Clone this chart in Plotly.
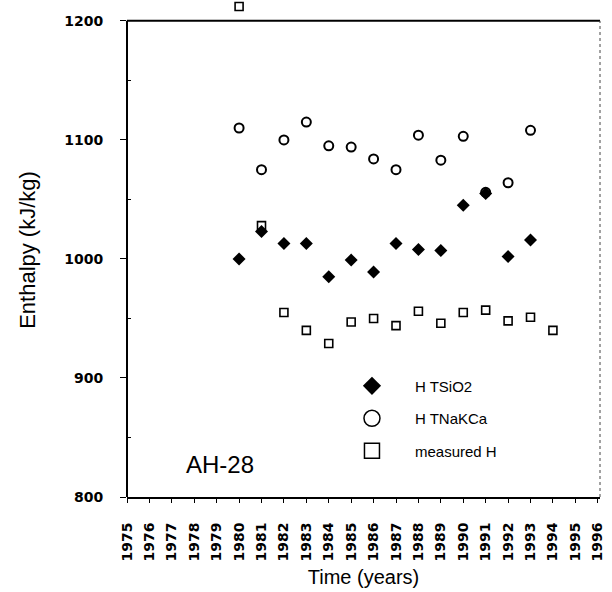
import plotly.graph_objects as go

years_tick = list(range(1975, 1997))
tick_text = [str(y) for y in years_tick]
y_ticks = [800, 900, 1000, 1100, 1200]
y_min, y_max = 800, 1200

years_tsio2 = [1980, 1981, 1982, 1983, 1984, 1985, 1986, 1987, 1988, 1989, 1990, 1991, 1992, 1993]
h_tsio2 = [1000, 1023, 1013, 1013, 985, 999, 989, 1013, 1008, 1007, 1045, 1055, 1002, 1016]

years_tnakca = [1980, 1981, 1982, 1983, 1984, 1985, 1986, 1987, 1988, 1989, 1990, 1991, 1992, 1993]
h_tnakca = [1110, 1075, 1100, 1115, 1095, 1094, 1084, 1075, 1104, 1083, 1103, 1056, 1064, 1108]

years_meas = [1980, 1981, 1982, 1983, 1984, 1985, 1986, 1987, 1988, 1989, 1990, 1991, 1992, 1993, 1994]
h_meas = [1212, 1028, 955, 940, 929, 947, 950, 944, 956, 946, 955, 957, 948, 951, 940]

m_meas = dict(symbol="square-open", size=8, color="black", line=dict(width=1.6, color="black"))
m_tnakca = dict(symbol="circle-open", size=9, color="black", line=dict(width=2, color="black"))
m_tsio2 = dict(symbol="diamond", size=10, color="black", line=dict(width=0))

fig = go.Figure()
fig.add_trace(go.Scatter(x=years_meas, y=h_meas, mode="markers", name="measured H",
                         showlegend=False, cliponaxis=False, marker=m_meas))
fig.add_trace(go.Scatter(x=years_tnakca, y=h_tnakca, mode="markers", name="H TNaKCa",
                         showlegend=False, cliponaxis=False, marker=m_tnakca))
fig.add_trace(go.Scatter(x=years_tsio2, y=h_tsio2, mode="markers", name="H TSiO2",
                         showlegend=False, cliponaxis=False, marker=m_tsio2))

# legend entries (larger symbols, as in the reference key)
fig.add_trace(go.Scatter(x=[None], y=[None], mode="markers", name="H TSiO2",
                         legendgroup="a", legendrank=1,
                         marker=dict(symbol="diamond", size=14, color="black", line=dict(width=0))))
fig.add_trace(go.Scatter(x=[None], y=[None], mode="markers", name="H TNaKCa",
                         legendgroup="b", legendrank=2,
                         marker=dict(symbol="circle-open", size=16, color="black",
                                     line=dict(width=1.5, color="black"))))
fig.add_trace(go.Scatter(x=[None], y=[None], mode="markers", name="measured H",
                         legendgroup="c", legendrank=3,
                         marker=dict(symbol="square-open", size=15, color="black",
                                     line=dict(width=1.5, color="black"))))

fig.add_annotation(x=0.12, y=0.065, xref="paper", yref="paper", text="AH-28",
                   showarrow=False, xanchor="left", yanchor="middle",
                   font=dict(family="Liberation Sans, Arial", size=24, color="black"))

# frame: left axis line, top line at 1200, dotted right edge
fig.add_shape(type="line", xref="paper", yref="y", x0=0, x1=0, y0=y_min, y1=y_max,
              line=dict(color="black", width=2))
fig.add_shape(type="line", xref="paper", yref="y", x0=0, x1=1, y0=y_max, y1=y_max,
              line=dict(color="black", width=2))
fig.add_shape(type="line", xref="paper", yref="y", x0=1, x1=1, y0=y_min, y1=y_max,
              line=dict(color="#444", width=1, dash="dot"))

fig.update_layout(
    width=612, height=592,
    margin=dict(l=127, r=12, t=3, b=95, autoexpand=False),
    paper_bgcolor="white", plot_bgcolor="white",
    font=dict(family="Liberation Sans, Arial", color="black"),
    showlegend=True,
    legend=dict(x=0.427, y=0.258, xanchor="left", yanchor="top",
                bgcolor="rgba(0,0,0,0)", tracegroupgap=10, itemwidth=76,
                font=dict(family="Liberation Sans, Arial", size=15, color="black")),
    xaxis=dict(range=[1975, 1996.1], tickmode="array", tickvals=years_tick, ticktext=tick_text,
               tickangle=-90, showgrid=False, zeroline=False, automargin=False,
               showline=True, linecolor="black", linewidth=2,
               ticks="outside", ticklen=4, tickcolor="black",
               ticklabelstandoff=14,
               tickfont=dict(family="DejaVu Sans", size=14, color="black", weight="bold"),
               title=dict(text="Time (years)", standoff=9,
                          font=dict(family="Liberation Sans, Arial", size=20, color="black"))),
    yaxis=dict(range=[y_min, 1215], tickvals=y_ticks,
               showgrid=False, zeroline=False, automargin=False,
               showline=False,
               ticks="outside", ticklen=6, tickcolor="black",
               ticklabelstandoff=14,
               minor=dict(tickvals=[850, 950, 1050, 1150], ticks="inside", ticklen=4,
                          tickcolor="black"),
               tickfont=dict(family="DejaVu Sans", size=14, color="black", weight="bold"),
               title=dict(text="Enthalpy (kJ/kg)", standoff=22,
                          font=dict(family="Liberation Sans, Arial", size=22, color="black"))),
)

fig.write_html("out.html")
